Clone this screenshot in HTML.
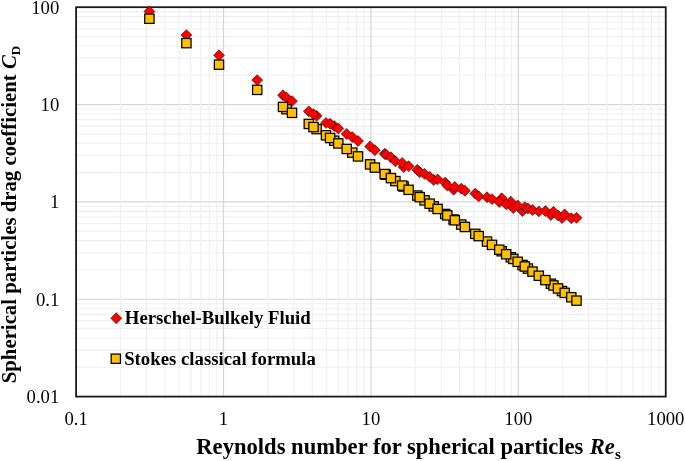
<!DOCTYPE html><html><head><meta charset="utf-8"><style>html,body{margin:0;padding:0;background:#fff}svg{display:block;will-change:transform}text{font-family:"Liberation Serif",serif;fill:#000}</style></head><body>
<svg width="685" height="461" viewBox="0 0 685 461">
<rect width="685" height="461" fill="#fff"/>
<g stroke="#efefef" stroke-width="1.1">
<line x1="76.10" x2="665.75" y1="75.24" y2="75.24"/>
<line x1="76.10" x2="665.75" y1="58.10" y2="58.10"/>
<line x1="76.10" x2="665.75" y1="45.94" y2="45.94"/>
<line x1="76.10" x2="665.75" y1="36.51" y2="36.51"/>
<line x1="76.10" x2="665.75" y1="28.80" y2="28.80"/>
<line x1="76.10" x2="665.75" y1="22.28" y2="22.28"/>
<line x1="76.10" x2="665.75" y1="16.63" y2="16.63"/>
<line x1="76.10" x2="665.75" y1="11.65" y2="11.65"/>
<line x1="76.10" x2="665.75" y1="172.59" y2="172.59"/>
<line x1="76.10" x2="665.75" y1="155.45" y2="155.45"/>
<line x1="76.10" x2="665.75" y1="143.29" y2="143.29"/>
<line x1="76.10" x2="665.75" y1="133.86" y2="133.86"/>
<line x1="76.10" x2="665.75" y1="126.15" y2="126.15"/>
<line x1="76.10" x2="665.75" y1="119.63" y2="119.63"/>
<line x1="76.10" x2="665.75" y1="113.98" y2="113.98"/>
<line x1="76.10" x2="665.75" y1="109.00" y2="109.00"/>
<line x1="76.10" x2="665.75" y1="269.94" y2="269.94"/>
<line x1="76.10" x2="665.75" y1="252.80" y2="252.80"/>
<line x1="76.10" x2="665.75" y1="240.64" y2="240.64"/>
<line x1="76.10" x2="665.75" y1="231.21" y2="231.21"/>
<line x1="76.10" x2="665.75" y1="223.50" y2="223.50"/>
<line x1="76.10" x2="665.75" y1="216.98" y2="216.98"/>
<line x1="76.10" x2="665.75" y1="211.33" y2="211.33"/>
<line x1="76.10" x2="665.75" y1="206.35" y2="206.35"/>
<line x1="76.10" x2="665.75" y1="367.29" y2="367.29"/>
<line x1="76.10" x2="665.75" y1="350.15" y2="350.15"/>
<line x1="76.10" x2="665.75" y1="337.99" y2="337.99"/>
<line x1="76.10" x2="665.75" y1="328.56" y2="328.56"/>
<line x1="76.10" x2="665.75" y1="320.85" y2="320.85"/>
<line x1="76.10" x2="665.75" y1="314.33" y2="314.33"/>
<line x1="76.10" x2="665.75" y1="308.68" y2="308.68"/>
<line x1="76.10" x2="665.75" y1="303.70" y2="303.70"/>
</g><g stroke="#d6d6d6" stroke-width="1.2">
<line x1="76.10" x2="665.75" y1="104.55" y2="104.55"/>
<line x1="76.10" x2="665.75" y1="201.90" y2="201.90"/>
<line x1="76.10" x2="665.75" y1="299.25" y2="299.25"/>
</g><g stroke="#efefef" stroke-width="1.1">
<line x1="120.48" x2="120.48" y1="7.20" y2="396.60"/>
<line x1="146.43" x2="146.43" y1="7.20" y2="396.60"/>
<line x1="164.85" x2="164.85" y1="7.20" y2="396.60"/>
<line x1="179.14" x2="179.14" y1="7.20" y2="396.60"/>
<line x1="190.81" x2="190.81" y1="7.20" y2="396.60"/>
<line x1="200.68" x2="200.68" y1="7.20" y2="396.60"/>
<line x1="209.23" x2="209.23" y1="7.20" y2="396.60"/>
<line x1="216.77" x2="216.77" y1="7.20" y2="396.60"/>
<line x1="267.89" x2="267.89" y1="7.20" y2="396.60"/>
<line x1="293.85" x2="293.85" y1="7.20" y2="396.60"/>
<line x1="312.26" x2="312.26" y1="7.20" y2="396.60"/>
<line x1="326.55" x2="326.55" y1="7.20" y2="396.60"/>
<line x1="338.22" x2="338.22" y1="7.20" y2="396.60"/>
<line x1="348.09" x2="348.09" y1="7.20" y2="396.60"/>
<line x1="356.64" x2="356.64" y1="7.20" y2="396.60"/>
<line x1="364.18" x2="364.18" y1="7.20" y2="396.60"/>
<line x1="415.30" x2="415.30" y1="7.20" y2="396.60"/>
<line x1="441.26" x2="441.26" y1="7.20" y2="396.60"/>
<line x1="459.68" x2="459.68" y1="7.20" y2="396.60"/>
<line x1="473.96" x2="473.96" y1="7.20" y2="396.60"/>
<line x1="485.63" x2="485.63" y1="7.20" y2="396.60"/>
<line x1="495.50" x2="495.50" y1="7.20" y2="396.60"/>
<line x1="504.05" x2="504.05" y1="7.20" y2="396.60"/>
<line x1="511.59" x2="511.59" y1="7.20" y2="396.60"/>
<line x1="562.71" x2="562.71" y1="7.20" y2="396.60"/>
<line x1="588.67" x2="588.67" y1="7.20" y2="396.60"/>
<line x1="607.09" x2="607.09" y1="7.20" y2="396.60"/>
<line x1="621.37" x2="621.37" y1="7.20" y2="396.60"/>
<line x1="633.05" x2="633.05" y1="7.20" y2="396.60"/>
<line x1="642.92" x2="642.92" y1="7.20" y2="396.60"/>
<line x1="651.46" x2="651.46" y1="7.20" y2="396.60"/>
<line x1="659.00" x2="659.00" y1="7.20" y2="396.60"/>
</g><g stroke="#d6d6d6" stroke-width="1.2">
<line x1="223.51" x2="223.51" y1="7.20" y2="396.60"/>
<line x1="370.92" x2="370.92" y1="7.20" y2="396.60"/>
<line x1="518.34" x2="518.34" y1="7.20" y2="396.60"/>
</g>
<rect x="76.10" y="7.20" width="589.65" height="389.40" fill="none" stroke="#1a1a1a" stroke-width="1.8"/>
<g fill="#ff0000" stroke="#200000" stroke-width="0.6" stroke-linejoin="miter">
<path d="M316.60 110.35L322.05 115.80L316.60 121.25L311.15 115.80Z"/>
<path d="M334.20 120.55L339.65 126.00L334.20 131.45L328.75 126.00Z"/>
<path d="M403.60 161.55L409.05 167.00L403.60 172.45L398.15 167.00Z"/>
<path d="M433.70 174.55L439.15 180.00L433.70 185.45L428.25 180.00Z"/>
<path d="M453.60 184.25L459.05 189.70L453.60 195.15L448.15 189.70Z"/>
<path d="M501.70 192.85L507.15 198.30L501.70 203.75L496.25 198.30Z"/>
<path d="M510.80 196.25L516.25 201.70L510.80 207.15L505.35 201.70Z"/>
<path d="M513.30 202.55L518.75 208.00L513.30 213.45L507.85 208.00Z"/>
<path d="M522.50 205.55L527.95 211.00L522.50 216.45L517.05 211.00Z"/>
<path d="M550.90 209.55L556.35 215.00L550.90 220.45L545.45 215.00Z"/>
<path d="M562.00 212.55L567.45 218.00L562.00 223.45L556.55 218.00Z"/>
<path d="M149.40 5.95L154.85 11.40L149.40 16.85L143.95 11.40Z"/>
<path d="M186.40 29.65L191.85 35.10L186.40 40.55L180.95 35.10Z"/>
<path d="M219.00 49.85L224.45 55.30L219.00 60.75L213.55 55.30Z"/>
<path d="M257.20 74.65L262.65 80.10L257.20 85.55L251.75 80.10Z"/>
<path d="M283.00 89.77L288.45 95.22L283.00 100.67L277.55 95.22Z"/>
<path d="M286.50 92.15L291.95 97.60L286.50 103.05L281.05 97.60Z"/>
<path d="M292.00 95.65L297.45 101.10L292.00 106.55L286.55 101.10Z"/>
<path d="M308.80 105.89L314.25 111.34L308.80 116.79L303.35 111.34Z"/>
<path d="M313.50 108.85L318.95 114.30L313.50 119.75L308.05 114.30Z"/>
<path d="M326.00 117.45L331.45 122.90L326.00 128.35L320.55 122.90Z"/>
<path d="M330.10 118.33L335.55 123.78L330.10 129.23L324.65 123.78Z"/>
<path d="M338.30 123.09L343.75 128.54L338.30 133.99L332.85 128.54Z"/>
<path d="M346.70 128.51L352.15 133.96L346.70 139.41L341.25 133.96Z"/>
<path d="M352.30 131.65L357.75 137.10L352.30 142.55L346.85 137.10Z"/>
<path d="M358.00 135.55L363.45 141.00L358.00 146.45L352.55 141.00Z"/>
<path d="M370.10 140.95L375.55 146.40L370.10 151.85L364.65 146.40Z"/>
<path d="M374.90 144.75L380.35 150.20L374.90 155.65L369.45 150.20Z"/>
<path d="M384.70 148.25L390.15 153.70L384.70 159.15L379.25 153.70Z"/>
<path d="M385.80 149.15L391.25 154.60L385.80 160.05L380.35 154.60Z"/>
<path d="M390.90 151.79L396.35 157.24L390.90 162.69L385.45 157.24Z"/>
<path d="M395.40 155.85L400.85 161.30L395.40 166.75L389.95 161.30Z"/>
<path d="M402.20 157.55L407.65 163.00L402.20 168.45L396.75 163.00Z"/>
<path d="M408.60 160.70L414.05 166.15L408.60 171.60L403.15 166.15Z"/>
<path d="M417.30 164.35L422.75 169.80L417.30 175.25L411.85 169.80Z"/>
<path d="M419.70 166.75L425.15 172.20L419.70 177.65L414.25 172.20Z"/>
<path d="M424.60 168.45L430.05 173.90L424.60 179.35L419.15 173.90Z"/>
<path d="M429.60 171.25L435.05 176.70L429.60 182.15L424.15 176.70Z"/>
<path d="M437.60 173.95L443.05 179.40L437.60 184.85L432.15 179.40Z"/>
<path d="M445.20 177.05L450.65 182.50L445.20 187.95L439.75 182.50Z"/>
<path d="M447.30 179.99L452.75 185.44L447.30 190.89L441.85 185.44Z"/>
<path d="M454.80 181.55L460.25 187.00L454.80 192.45L449.35 187.00Z"/>
<path d="M461.20 183.15L466.65 188.60L461.20 194.05L455.75 188.60Z"/>
<path d="M464.90 185.25L470.35 190.70L464.90 196.15L459.45 190.70Z"/>
<path d="M475.30 188.12L480.75 193.57L475.30 199.02L469.85 193.57Z"/>
<path d="M478.70 190.88L484.15 196.33L478.70 201.78L473.25 196.33Z"/>
<path d="M487.00 191.75L492.45 197.20L487.00 202.65L481.55 197.20Z"/>
<path d="M492.00 193.65L497.45 199.10L492.00 204.55L486.55 199.10Z"/>
<path d="M499.30 196.58L504.75 202.03L499.30 207.48L493.85 202.03Z"/>
<path d="M506.20 198.75L511.65 204.20L506.20 209.65L500.75 204.20Z"/>
<path d="M517.70 200.07L523.15 205.52L517.70 210.97L512.25 205.52Z"/>
<path d="M524.80 201.76L530.25 207.21L524.80 212.66L519.35 207.21Z"/>
<path d="M527.90 203.05L533.35 208.50L527.90 213.95L522.45 208.50Z"/>
<path d="M532.50 204.55L537.95 210.00L532.50 215.45L527.05 210.00Z"/>
<path d="M538.80 205.95L544.25 211.40L538.80 216.85L533.35 211.40Z"/>
<path d="M545.40 205.56L550.85 211.01L545.40 216.46L539.95 211.01Z"/>
<path d="M553.50 206.29L558.95 211.74L553.50 217.19L548.05 211.74Z"/>
<path d="M558.00 209.95L563.45 215.40L558.00 220.85L552.55 215.40Z"/>
<path d="M564.70 208.96L570.15 214.41L564.70 219.86L559.25 214.41Z"/>
<path d="M571.30 212.82L576.75 218.27L571.30 223.72L565.85 218.27Z"/>
<path d="M576.50 212.35L581.95 217.80L576.50 223.25L571.05 217.80Z"/>
</g>
<g fill="#ffc000" stroke="#000" stroke-width="1.25">
<rect x="281.85" y="104.57" width="9.30" height="9.30"/>
<rect x="311.95" y="124.44" width="9.30" height="9.30"/>
<rect x="329.55" y="136.06" width="9.30" height="9.30"/>
<rect x="347.65" y="148.00" width="9.30" height="9.30"/>
<rect x="381.15" y="170.12" width="9.30" height="9.30"/>
<rect x="390.75" y="176.45" width="9.30" height="9.30"/>
<rect x="398.95" y="181.87" width="9.30" height="9.30"/>
<rect x="412.65" y="190.91" width="9.30" height="9.30"/>
<rect x="419.95" y="195.73" width="9.30" height="9.30"/>
<rect x="429.05" y="201.74" width="9.30" height="9.30"/>
<rect x="440.55" y="209.33" width="9.30" height="9.30"/>
<rect x="448.95" y="214.87" width="9.30" height="9.30"/>
<rect x="456.55" y="219.89" width="9.30" height="9.30"/>
<rect x="470.65" y="229.20" width="9.30" height="9.30"/>
<rect x="482.35" y="236.92" width="9.30" height="9.30"/>
<rect x="497.05" y="246.62" width="9.30" height="9.30"/>
<rect x="506.15" y="252.63" width="9.30" height="9.30"/>
<rect x="508.65" y="254.28" width="9.30" height="9.30"/>
<rect x="517.85" y="260.35" width="9.30" height="9.30"/>
<rect x="523.25" y="263.92" width="9.30" height="9.30"/>
<rect x="546.25" y="279.10" width="9.30" height="9.30"/>
<rect x="548.85" y="280.82" width="9.30" height="9.30"/>
<rect x="557.35" y="286.43" width="9.30" height="9.30"/>
<rect x="144.75" y="14.07" width="9.30" height="9.30"/>
<rect x="181.75" y="38.49" width="9.30" height="9.30"/>
<rect x="214.35" y="60.01" width="9.30" height="9.30"/>
<rect x="252.55" y="85.23" width="9.30" height="9.30"/>
<rect x="278.35" y="102.26" width="9.30" height="9.30"/>
<rect x="287.35" y="108.20" width="9.30" height="9.30"/>
<rect x="304.15" y="119.29" width="9.30" height="9.30"/>
<rect x="308.85" y="122.39" width="9.30" height="9.30"/>
<rect x="321.35" y="130.64" width="9.30" height="9.30"/>
<rect x="325.45" y="133.35" width="9.30" height="9.30"/>
<rect x="333.65" y="138.76" width="9.30" height="9.30"/>
<rect x="342.05" y="144.31" width="9.30" height="9.30"/>
<rect x="353.35" y="151.77" width="9.30" height="9.30"/>
<rect x="365.45" y="159.75" width="9.30" height="9.30"/>
<rect x="370.25" y="162.92" width="9.30" height="9.30"/>
<rect x="380.05" y="169.39" width="9.30" height="9.30"/>
<rect x="386.25" y="173.48" width="9.30" height="9.30"/>
<rect x="397.55" y="180.94" width="9.30" height="9.30"/>
<rect x="403.95" y="185.17" width="9.30" height="9.30"/>
<rect x="415.05" y="192.49" width="9.30" height="9.30"/>
<rect x="424.95" y="199.03" width="9.30" height="9.30"/>
<rect x="432.95" y="204.31" width="9.30" height="9.30"/>
<rect x="442.65" y="210.71" width="9.30" height="9.30"/>
<rect x="450.15" y="215.66" width="9.30" height="9.30"/>
<rect x="460.25" y="222.33" width="9.30" height="9.30"/>
<rect x="474.05" y="231.44" width="9.30" height="9.30"/>
<rect x="487.35" y="240.22" width="9.30" height="9.30"/>
<rect x="494.65" y="245.04" width="9.30" height="9.30"/>
<rect x="501.55" y="249.59" width="9.30" height="9.30"/>
<rect x="513.05" y="257.18" width="9.30" height="9.30"/>
<rect x="520.15" y="261.87" width="9.30" height="9.30"/>
<rect x="527.85" y="266.95" width="9.30" height="9.30"/>
<rect x="534.15" y="271.11" width="9.30" height="9.30"/>
<rect x="540.75" y="275.47" width="9.30" height="9.30"/>
<rect x="553.35" y="283.79" width="9.30" height="9.30"/>
<rect x="560.05" y="288.21" width="9.30" height="9.30"/>
<rect x="566.65" y="292.57" width="9.30" height="9.30"/>
<rect x="571.85" y="296.00" width="9.30" height="9.30"/>
</g>
<g fill="#ff0000" stroke="#200000" stroke-width="0.6"><path d="M116.20 312.75L121.65 318.20L116.20 323.65L110.75 318.20Z"/></g>
<rect x="111.15" y="354.05" width="9.3" height="9.3" fill="#ffc000" stroke="#000" stroke-width="1.25"/>
<text x="124.8" y="323.8" font-size="18.75" font-weight="bold">Herschel-Bulkely Fluid</text>
<text x="124.2" y="364.6" font-size="18.75" font-weight="bold">Stokes classical formula</text>
<text x="59.3" y="13.50" font-size="18.7" text-anchor="end">100</text>
<text x="59.3" y="110.85" font-size="18.7" text-anchor="end">10</text>
<text x="59.3" y="208.20" font-size="18.7" text-anchor="end">1</text>
<text x="59.3" y="305.55" font-size="18.7" text-anchor="end">0.1</text>
<text x="59.3" y="402.90" font-size="18.7" text-anchor="end">0.01</text>
<text x="76.10" y="425.1" font-size="18.7" text-anchor="middle">0.1</text>
<text x="223.51" y="425.1" font-size="18.7" text-anchor="middle">1</text>
<text x="370.92" y="425.1" font-size="18.7" text-anchor="middle">10</text>
<text x="518.34" y="425.1" font-size="18.7" text-anchor="middle">100</text>
<text x="665.75" y="425.1" font-size="18.7" text-anchor="middle">1000</text>
<text x="196.3" y="454.3" font-size="22.6" font-weight="bold">Reynolds number for spherical particles</text>
<text x="589.7" y="454.3" font-size="22.6" font-weight="bold" font-style="italic">Re</text>
<text x="614.9" y="459.2" font-size="15" font-weight="bold">s</text>
<text transform="translate(16.0,383.3) rotate(-90)" font-size="20.8" font-weight="bold">Spherical particles drag coefficient <tspan font-style="italic">C</tspan><tspan font-size="13.2" dy="4">D</tspan></text>
</svg></body></html>
